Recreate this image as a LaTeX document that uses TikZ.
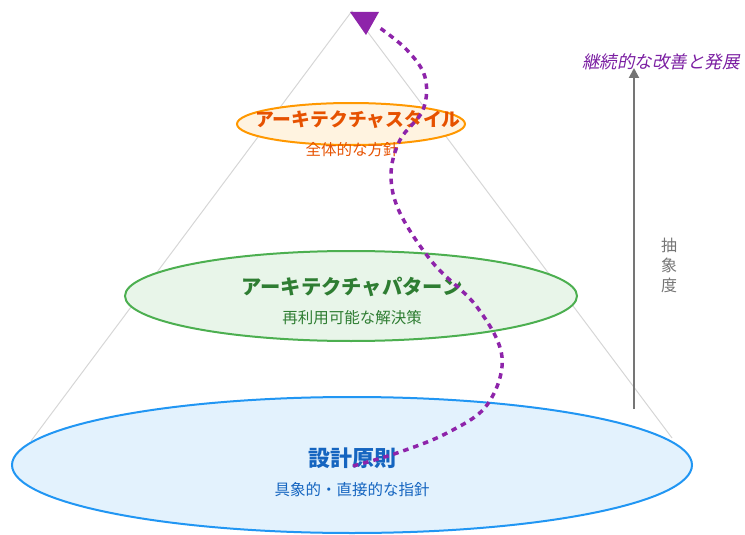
\documentclass[tikz,border=0pt]{standalone}
\usepackage{fontspec}
\setmainfont{Noto Sans CJK JP}
\newfontfamily\jpit[FakeSlant=0.2]{Noto Sans CJK JP}
\usetikzlibrary{arrows.meta}
\definecolor{orS}{HTML}{FF9800}\definecolor{orF}{HTML}{FFF3E0}\definecolor{orT}{HTML}{E65100}
\definecolor{grS}{HTML}{4CAF50}\definecolor{grF}{HTML}{E8F5E9}\definecolor{grT}{HTML}{2E7D32}
\definecolor{blS}{HTML}{2196F3}\definecolor{blF}{HTML}{E3F2FD}\definecolor{blT}{HTML}{1565C0}
\definecolor{pu}{HTML}{8E24AA}\definecolor{puT}{HTML}{7B1FA2}
\definecolor{gr}{HTML}{757575}\definecolor{lg}{HTML}{D6D6D6}
\begin{document}
\begin{tikzpicture}[x=1pt,y=-1pt,
  layer/.style={line width=2pt},
  ttl/.style={font=\fontsize{#1}{#1}\selectfont\bfseries, inner sep=0pt},
  sub/.style={font=\fontsize{15.5}{15.5}\selectfont, inner sep=0pt},
  flow/.style={pu, line width=3.5pt, dash pattern=on 5.5pt off 5pt}]
\useasboundingbox (0,0) rectangle (745,535);
\coordinate (apex) at (352,11);
\coordinate (bl) at (31,441);
\coordinate (br) at (672,438);
\draw[lg, line width=1pt] (bl) -- (apex) -- (br);
% layers
\filldraw[layer, draw=blS, fill=blF] (352,465) ellipse [x radius=340, y radius=68];
\filldraw[layer, draw=grS, fill=grF] (351,296) ellipse [x radius=226, y radius=45];
\filldraw[layer, draw=orS, fill=orF] (351,124) ellipse [x radius=114, y radius=21];
\node[ttl=18.8, text=orT] (t1) at (358,120) {アーキテクチャスタイル};
\node[sub, text=orT] (s1) at (352,150) {全体的な方針};
\node[ttl=20.3, text=grT] (t2) at (352,287) {アーキテクチャパターン};
\node[sub, text=grT] (s2) at (352,318) {再利用可能な解決策};
\node[ttl=22, text=blT] (t3) at (352,458) {設計原則};
\node[sub, text=blT] (s3) at (352,490) {具象的・直接的な指針};
% flow curve
\coordinate (fs) at (353,466);
\coordinate (fe) at (380,28);
\draw[flow] plot[smooth, tension=0.6] coordinates {(fs) (397,453) (447,433) (487,405) (502,357) (477,307) (433,263) (400,213) (391,175) (400,140) (423,110) (425,77) (407,50) (fe)};
\fill[pu] (350,12) -- (379,12) -- (366,35) -- cycle;
% abstraction axis
\coordinate (ab) at (634,409);
\coordinate (at) at (634,68);
\draw[gr, line width=2pt, -{Triangle[length=10pt,width=10pt]}] (ab) -- (at);
\node[text=gr, font=\fontsize{16}{20}\selectfont, align=center, inner sep=0pt] (abs) at (669,265) {抽\\象\\度};
\node[text=puT, font=\jpit\fontsize{17.5}{17.5}\selectfont, inner sep=0pt] (imp) at (661,62) {継続的な改善と発展};
\end{tikzpicture}
\end{document}
